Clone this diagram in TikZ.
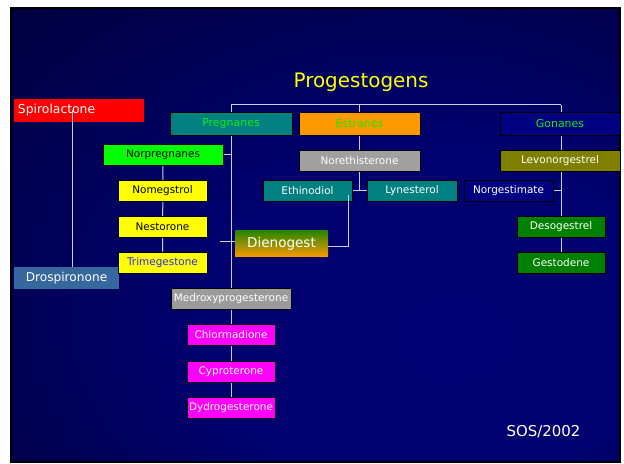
\documentclass[tikz,border=0pt]{standalone}
\usepackage{fontspec}
\setmainfont{DejaVu Sans}
\usetikzlibrary{backgrounds}
\definecolor{bgin}{RGB}{0,0,115}
\definecolor{bgmid}{RGB}{0,0,78}
\definecolor{bgout}{RGB}{0,0,42}
\definecolor{teal0}{RGB}{0,128,128}
\definecolor{orng}{RGB}{255,153,0}
\definecolor{navy0}{RGB}{0,0,128}
\definecolor{lime0}{RGB}{0,255,0}
\definecolor{yel0}{RGB}{255,255,0}
\definecolor{steel0}{RGB}{54,104,158}
\definecolor{gray0}{RGB}{155,155,155}
\definecolor{gray1}{RGB}{160,160,160}
\definecolor{mag0}{RGB}{255,0,255}
\definecolor{olive0}{RGB}{128,128,0}
\definecolor{green0}{RGB}{0,128,0}
\definecolor{labgreen}{RGB}{20,235,20}
\definecolor{tblue}{RGB}{40,40,255}
\definecolor{titley}{RGB}{255,255,0}
\definecolor{dgreen}{RGB}{40,135,0}
\definecolor{wire}{RGB}{205,205,225}
\pgfdeclareradialshading{slidebg}{\pgfpoint{12bp}{-12bp}}{color(0bp)=(bgin); color(20bp)=(bgin!85!bgmid); color(36bp)=(bgmid); color(58bp)=(bgout); color(90bp)=(bgout)}
\newcommand{\fsz}[1]{\fontsize{#1}{#1}\selectfont}
\tikzset{
  box/.style={draw=black, line width=0.8bp, inner sep=0pt, minimum height=21bp, font=\fsz{10.5}, text=white},
  catbox/.style={box, minimum height=23bp, font=\fsz{11}, text=labgreen},
  flat/.style={inner sep=0pt, text=white},
  wireln/.style={draw=wire, line width=1bp},
}
\begin{document}
\begin{tikzpicture}[x=1bp,y=-1bp]
\useasboundingbox (0,0) rectangle (624,464);
\begin{pgfonlayer}{background}
\fill[white] (0,0) rectangle (624,464);
\shade[shading=slidebg] (11,8) rectangle (620,462);
\draw[black, line width=2bp] (11,8) rectangle (620,462);
\end{pgfonlayer}

\node[text=titley, font=\fsz{20}] (title) at (361,82) {Progestogens};

\node[flat, fill=red, minimum width=130bp, minimum height=23bp, font=\fsz{12.4}, text width=122bp, align=left] (spiro) at (79,110.5) {Spirolactone};
\node[flat, fill=steel0, minimum width=105bp, minimum height=22bp, font=\fsz{12.2}] (drosp) at (66.5,278) {Drospironone};

\node[catbox, fill=teal0, minimum width=122bp] (preg) at (231,124) {Pregnanes};
\node[catbox, fill=orng, minimum width=121bp] (estr) at (359.5,124) {Estranes};
\node[catbox, fill=navy0, minimum width=120bp] (gon) at (560,124) {Gonanes};

\node[box, fill=lime0, text=black, minimum width=120bp] (norpreg) at (163,154.5) {Norpregnanes};
\node[box, fill=yel0, text=black, minimum width=89bp] (nomeg) at (162.5,191) {Nomegstrol};
\node[box, fill=yel0, text=black, minimum width=89bp] (nestor) at (162.5,226.5) {Nestorone};
\node[box, fill=yel0, text=tblue, minimum width=89bp] (trimeg) at (162.5,262.5) {Trimegestone};

\node[box, fill=gray0, minimum width=120bp] (medroxy) at (231,298.5) {Medroxyprogesterone};
\node[box, fill=mag0, minimum width=88bp] (chlor) at (231,335) {Chlormadione};
\node[box, fill=mag0, minimum width=88bp] (cypro) at (231,371.5) {Cyproterone};
\node[box, fill=mag0, minimum width=88bp] (dydro) at (231,407.5) {Dydrogesterone};

\node[box, fill=gray1, minimum width=121bp] (noreth) at (359.5,161) {Norethisterone};
\node[box, fill=teal0, minimum width=89bp] (ethin) at (307.5,191) {Ethinodiol};
\node[box, fill=teal0, minimum width=90bp] (lynes) at (412,191) {Lynesterol};
\node[flat, top color=dgreen, bottom color=orng, minimum width=93bp, minimum height=26bp, font=\fsz{13.6}] (dieno) at (281.5,244) {Dienogest};

\node[box, fill=olive0, minimum width=120bp] (levo) at (560,161) {Levonorgestrel};
\node[box, fill=navy0, minimum width=89bp] (norgest) at (508.5,191) {Norgestimate};
\node[box, fill=green0, minimum width=88bp] (deso) at (561,226.5) {Desogestrel};
\node[box, fill=green0, minimum width=88bp] (gesto) at (561,262.5) {Gestodene};

\node[text=white, font=\fsz{15}] (sos) at (543.5,432) {SOS/2002};

\coordinate (barL) at (231,105);
\coordinate (barR) at (561,105);
\coordinate (dbr) at (220,242);
\coordinate (ed) at (348,195);
\coordinate (sp) at (72,110);

\begin{pgfonlayer}{background}
\draw[wireln] (barL) -- (barR);
\draw[wireln] (barL) -- (medroxy.north);
\draw[wireln] (estr.north |- barL) -- (estr.north |- ethin.east);
\draw[wireln] (ethin.east) -- (lynes.west);
\draw[wireln] (barR) -- (gesto.north);
\draw[wireln] (norpreg.east) -- (norpreg.east -| barL);
\draw[wireln] (norpreg.south) -- (trimeg.north);
\draw[wireln] (dbr) -- (dbr -| dieno.west);
\draw[wireln] (medroxy.south) -- (dydro.north);
\draw[wireln] (norgest.east) -- (norgest.east -| barR);
\end{pgfonlayer}
\draw[wireln] (ed) -- (ed |- 0,247) -- (dieno.east |- 0,247);
\draw[wireln] (sp) -- (sp |- drosp.north);
\end{tikzpicture}
\end{document}
